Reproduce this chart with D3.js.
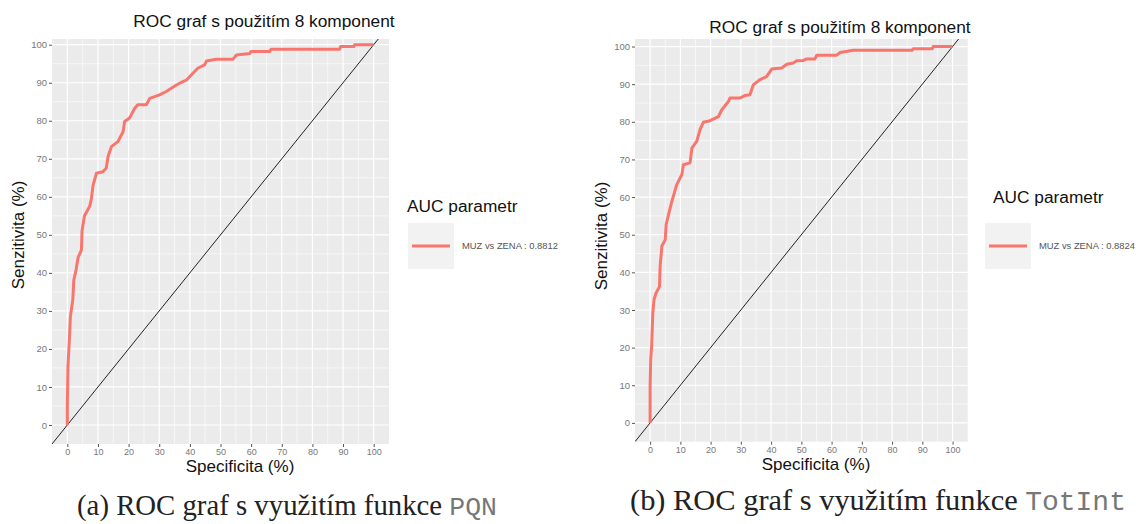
<!DOCTYPE html>
<html>
<head>
<meta charset="utf-8">
<script src="https://cdn.jsdelivr.net/npm/d3@7"></script>
<style>
    body { margin: 0; background: #fff; }
    svg { display: block; font-family: "Liberation Sans", Arial, sans-serif; }
    .grid-major { stroke: #fff; stroke-width: 1.2; }
    .grid-minor { stroke: #fff; stroke-width: 0.6; }
    .axis path { display: none; }
    .axis line { stroke: #555; }
    .axis text { fill: #777; font-family: "Liberation Sans", Arial, sans-serif; }
</style>
</head>
<body>
<svg width="1136" height="524"></svg>
<script>
const TICKS = [0, 10, 20, 30, 40, 50, 60, 70, 80, 90, 100];
const MINOR_TICKS = [5, 15, 25, 35, 45, 55, 65, 75, 85, 95];

const TITLE = 'ROC graf s použitím 8 komponent';
const X_LABEL = 'Specificita (%)';
const Y_LABEL = 'Senzitivita (%)';
const LEGEND_TITLE = 'AUC parametr';

// ROC curve (a) PQN
const PQN_SPEC = [0, 0, 0.2, 0.75, 1, 1.8, 2.1, 2.9, 3.5, 4.6, 4.8, 5.6, 6.7, 7.3, 7.8, 8.4, 9.5, 11.6, 12.7, 13.3,
    14.4, 16.5, 18.2, 18.7, 20.3, 22, 23, 25.8, 26.9, 30.1, 32.3, 35.6, 37.7, 38.9, 41, 42.6, 44.8, 45.4, 48.6,
    54.1, 55.2, 59.5, 60, 66, 66.5, 88.9, 89.2, 93.5, 93.8, 100];
const PQN_SENS = [0, 5, 15, 24, 28.5, 33, 38, 41, 44, 46, 51, 55, 56.6, 57.5, 59.2, 63, 66.2, 66.6, 67.5, 70.6,
    73.2, 74.5, 77.1, 79.8, 80.7, 83.3, 84.2, 84.2, 85.9, 86.8, 87.7, 89.4, 90.3, 90.7, 92.5, 93.8, 94.7, 95.7, 96.2,
    96.2, 97.3, 97.7, 98.2, 98.2, 98.8, 98.8, 99.5, 99.5, 100, 100];

// ROC curve (b) TotInt
const TOT_SPEC = [0, 0, 0.2, 0.5, 0.9, 1.3, 2, 3.1, 3.3, 3.9, 5, 5.3, 6.1, 7.2, 8.8, 10.5, 11, 13.2, 13.8, 15.4,
    16.5, 17.6, 19.8, 22.6, 23.7, 25.9, 26.4, 29.7, 31.4, 33, 34.1, 36.3, 38.5, 40.2, 43.5, 45.2, 47.3, 48.5, 50.7,
    51.8, 54.5, 55.1, 61.7, 62.8, 67.2, 86.6, 87, 93.3, 93.6, 100];
const TOT_SENS = [0, 9.8, 17, 20.4, 29.3, 32.8, 34.6, 36.2, 41.6, 47, 48.7, 52.7, 55.4, 58.9, 63.3, 66, 68.6, 69.1, 73, 74.8,
    77.9, 79.9, 80.3, 81.4, 83.2, 85.4, 86.3, 86.3, 87, 87.2, 89.8, 91.2, 92, 94, 94.3, 95.3, 95.6, 96.2, 96.3,
    96.7, 96.7, 97.7, 97.7, 98.4, 99, 99, 99.4, 99.4, 100, 100];

const AUC_LABELS = ['MUZ vs ZENA : 0.8812', 'MUZ vs ZENA : 0.8824'];
const CAPTION_TEXT = ['(a) ROC graf s využitím funkce ', '(b) ROC graf s využitím funkce '];
const CAPTION_CODE = ['PQN', 'TotInt'];

const RED = '#F8766D';

const PANELS = [
    {
        left: 52, right: 389, top: 39, bottom: 444, yMax: 101.5,
        spec: PQN_SPEC, sens: PQN_SENS, auc: AUC_LABELS[0],
        titleX: 264, titleY: 27, xLabX: 240, xLabY: 472, yLabX: 24, yLabY: 235,
        legTitleX: 407, legTitleY: 212, keyX: 408, keyY: 223, keySize: 46,
        capX: 287, capY: 515, capW: 420, capText: CAPTION_TEXT[0], capCode: CAPTION_CODE[0]
    },
    {
        left: 635, right: 967.7, top: 39, bottom: 441.7, yMax: 102,
        spec: TOT_SPEC, sens: TOT_SENS, auc: AUC_LABELS[1],
        titleX: 840, titleY: 33, xLabX: 816, xLabY: 470, yLabX: 607, yLabY: 236,
        legTitleX: 993, legTitleY: 203, keyX: 985, keyY: 223, keySize: 46,
        capX: 878, capY: 510, capW: 496, capText: CAPTION_TEXT[1], capCode: CAPTION_CODE[1]
    }
];

const svg = d3.select('svg');

const drawPanel = function (p, i) {
    let xScale = d3.scaleLinear().domain([-5, 105]).range([p.left, p.right]);
    let yScale = d3.scaleLinear().domain([-5, p.yMax]).range([p.bottom, p.top]);

    svg.append('clipPath').attr('id', `clip${i}`)
        .append('rect')
        .attr('x', p.left).attr('y', p.top)
        .attr('width', p.right - p.left).attr('height', p.bottom - p.top);

    svg.append('rect')
        .attr('x', p.left).attr('y', p.top)
        .attr('width', p.right - p.left).attr('height', p.bottom - p.top)
        .attr('fill', '#EBEBEB');

    let grid = svg.append('g').attr('clip-path', `url(#clip${i})`);

    grid.selectAll('.vminor').data(MINOR_TICKS).enter().append('line')
        .attr('class', 'grid-minor')
        .attr('x1', d => xScale(d)).attr('x2', d => xScale(d))
        .attr('y1', p.top).attr('y2', p.bottom);
    grid.selectAll('.hminor').data(MINOR_TICKS).enter().append('line')
        .attr('class', 'grid-minor')
        .attr('y1', d => yScale(d)).attr('y2', d => yScale(d))
        .attr('x1', p.left).attr('x2', p.right);
    grid.selectAll('.vmajor').data(TICKS).enter().append('line')
        .attr('class', 'grid-major')
        .attr('x1', d => xScale(d)).attr('x2', d => xScale(d))
        .attr('y1', p.top).attr('y2', p.bottom);
    grid.selectAll('.hmajor').data(TICKS).enter().append('line')
        .attr('class', 'grid-major')
        .attr('y1', d => yScale(d)).attr('y2', d => yScale(d))
        .attr('x1', p.left).attr('x2', p.right);

    // axes
    svg.append('g')
        .attr('class', 'axis')
        .attr('transform', `translate(0, ${p.bottom})`)
        .call(d3.axisBottom(xScale).tickValues(TICKS).tickSize(3).tickPadding(1.5))
        .selectAll('text').style('font-size', '9px');

    svg.append('g')
        .attr('class', 'axis')
        .attr('transform', `translate(${p.left}, 0)`)
        .call(d3.axisLeft(yScale).tickValues(TICKS).tickSize(3).tickPadding(2))
        .selectAll('text').style('font-size', '9.5px');

    // roc curve + diagonal
    let plot = svg.append('g').attr('clip-path', `url(#clip${i})`);

    plot.append('path')
        .attr('d', d3.line().x(d => xScale(d)).y(d => yScale(d))([-5, 105]))
        .attr('fill', 'none')
        .attr('stroke', '#222')
        .attr('stroke-width', 1);

    let line = d3.line()
        .x(d => xScale(d[0]))
        .y(d => yScale(d[1]));

    plot.append('path')
        .attr('d', line(d3.zip(p.spec, p.sens)))
        .attr('fill', 'none')
        .attr('stroke', RED)
        .attr('stroke-width', 3)
        .attr('stroke-linejoin', 'round');

    // texts
    svg.append('text')
        .attr('x', p.titleX).attr('y', p.titleY)
        .attr('text-anchor', 'middle')
        .style('font-size', '17.3px')
        .attr('fill', '#111')
        .text(TITLE);

    svg.append('text')
        .attr('x', p.xLabX).attr('y', p.xLabY)
        .attr('text-anchor', 'middle')
        .style('font-size', '17px')
        .attr('fill', '#111')
        .text(X_LABEL);

    svg.append('text')
        .attr('text-anchor', 'middle')
        .attr('transform', `translate(${p.yLabX}, ${p.yLabY})rotate(-90)`)
        .style('font-size', '17px')
        .attr('fill', '#111')
        .text(Y_LABEL);

    // legend
    svg.append('text')
        .attr('x', p.legTitleX).attr('y', p.legTitleY)
        .style('font-size', '17.3px')
        .attr('fill', '#111')
        .text(LEGEND_TITLE);

    svg.append('rect')
        .attr('x', p.keyX).attr('y', p.keyY)
        .attr('width', p.keySize).attr('height', p.keySize)
        .attr('fill', '#F2F2F2');

    svg.append('line')
        .attr('x1', p.keyX + 4).attr('x2', p.keyX + p.keySize - 4)
        .attr('y1', p.keyY + p.keySize / 2).attr('y2', p.keyY + p.keySize / 2)
        .attr('stroke', RED)
        .attr('stroke-width', 3);

    svg.append('text')
        .attr('x', p.keyX + p.keySize + 8).attr('y', p.keyY + p.keySize / 2)
        .attr('dy', '0.35em')
        .style('font-size', '9.4px')
        .attr('fill', '#555')
        .text(p.auc);

    // caption, sized to fit its width
    let cap = svg.append('text')
        .attr('x', p.capX).attr('y', p.capY)
        .attr('text-anchor', 'middle')
        .style('font-family', '"Liberation Serif", "DejaVu Serif", serif')
        .style('font-size', '20px')
        .attr('fill', '#222');
    cap.append('tspan').text(p.capText);
    cap.append('tspan')
        .style('font-family', '"Liberation Mono", "DejaVu Sans Mono", monospace')
        .style('font-size', '0.92em')
        .attr('fill', '#777')
        .text(p.capCode);
    let w = cap.node().getComputedTextLength();
    cap.style('font-size', `${20 * p.capW / w}px`);
};

PANELS.forEach(drawPanel);
</script>
</body>
</html>
